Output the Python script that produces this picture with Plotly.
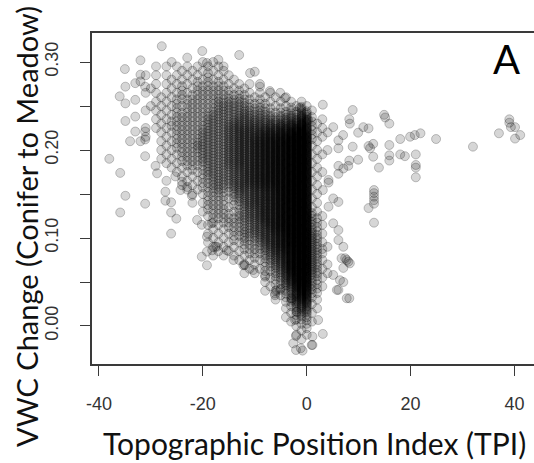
import plotly.graph_objects as go

# Isolated observations around the edge of the cloud (TPI, VWC change)
tpi_sparse = [
    -27.9, -20.1, -13.0, -32.0, -35.0, -34.9, -36.0, -34.9, -33.0, -33.0, -34.9, -33.0,
    -31.1, -34.0, -32.0, -31.1, -33.0, -32.0, -32.0, -31.1, -17.0, -19.2, -16.0, -10.0,
    -10.9, -9.0, -7.1, -5.1, -4.2, -1.3, 0.3,
    -38.0, -35.9, -34.9, -35.9, -31.1, -31.1, -29.1, -28.8, -27.2, -27.2, -26.1, -26.1,
    -25.1, -26.1, -22.1, -21.1, -20.2, -19.2, -18.2, -17.3, -24.3, -23.0, -24.0, -25.3,
    -20.2, -19.2, -19.2, -17.6, -15.4, -14.1, -12.2, -10.3, -8.0, -6.1, -5.1, -2.9,
    -18.3, -11.9, -6.1, -5.8,
    3.1, 8.85, 8.2, 8.3, 14.9, 15.9, 15.1, 10.9, 11.9, 9.9, 7.0, 6.1, 5.1, 18.0, 19.9,
    20.8, 21.9, 24.9, 32.0, 37.0, 39.0, 39.0, 40.1, 39.3, 41.1, 40.1, 8.85, 11.9, 12.8,
    12.2, 15.9, 6.1, 12.8, 15.9, 15.9, 18.0, 18.9, 21.0, 21.0, 21.0, 21.0, 13.9, 9.9,
    8.2, 8.0, 7.05, 6.1, 6.1, 12.95, 12.95, 12.95, 12.95, 12.95, 11.9, 12.95, 4.2, 4.2,
    3.1, 5.1, 6.1, 4.2, 5.1, 6.1, 6.1, 7.05, 7.7, 8.3, 6.7, 8.2, 7.05, 6.1, 8.0, 7.4,
    7.05, 5.1, 3.1, 1.1, 1.1, -0.8, -2.06, -1.15, -2.6, 0.96, 2.2, -2.06, -2.9, -1.9,
    -2.25, 5.8, 7.7, 6.4,
]
vwc_sparse = [
    0.318, 0.3125, 0.308, 0.302, 0.292, 0.272, 0.261, 0.253, 0.257, 0.238, 0.233, 0.221,
    0.221, 0.210, 0.210, 0.212, 0.276, 0.2856, 0.278, 0.272, 0.3026, 0.2989, 0.295, 0.289,
    0.2875, 0.272, 0.267, 0.265, 0.259, 0.248, 0.234,
    0.190, 0.174, 0.148, 0.129, 0.139, 0.193, 0.182, 0.1735, 0.1526, 0.1424, 0.1406, 0.129,
    0.122, 0.105, 0.148, 0.1205, 0.0788, 0.069, 0.086, 0.090, 0.1545, 0.158, 0.164, 0.170,
    0.115, 0.1015, 0.0845, 0.090, 0.086, 0.075, 0.069, 0.0636, 0.056, 0.035, 0.041, 0.0315,
    0.1167, 0.069, 0.037, 0.041,
    0.2515, 0.2455, 0.235, 0.230, 0.240, 0.230, 0.237, 0.226, 0.2246, 0.2197, 0.217, 0.211,
    0.226, 0.2125, 0.2151, 0.217, 0.219, 0.2125, 0.2038, 0.219, 0.2349, 0.231, 0.226, 0.226,
    0.217, 0.213, 0.2038, 0.2045, 0.207, 0.202, 0.2057, 0.202, 0.1924, 0.194, 0.188, 0.195,
    0.193, 0.195, 0.183, 0.180, 0.169, 0.180, 0.189, 0.188, 0.182, 0.179, 0.173, 0.182,
    0.1545, 0.151, 0.147, 0.143, 0.139, 0.134, 0.1174, 0.166, 0.163, 0.1545, 0.145, 0.141,
    0.1356, 0.1167, 0.109, 0.0977, 0.090, 0.075, 0.0712, 0.077, 0.0315, 0.050, 0.041, 0.073,
    0.077, 0.066, 0.058, -0.009, -0.012, -0.0216, -0.028, -0.0273, -0.0253, -0.0197, -0.0216,
    0.0068, -0.0114, 0.0295, 0.016, 0.0068, 0.041, 0.0315, 0.052,
]

# Crowded part of the cloud, tallied per 1-unit TPI column and 0.01 VWC row
# (odd columns use bins offset by half a row). Counts are base-36 digits (a = 10 ...).
grid_tpi = list(range(-31, 7))
grid_vwc = [round(0.30 - 0.01 * i, 2) for i in range(33)]
grid_counts = [
    "00000 10010 01010 00000 00000 00000 00000 000",  # 0.30
    "00101 01111 11111 10000 00000 00000 00000 000",  # 0.29
    "10101 11111 11211 11100 00000 00000 00000 000",  # 0.28
    "01101 11211 22222 21111 10100 00000 00000 000",  # 0.27
    "10111 11212 22222 22222 11111 10100 00000 000",  # 0.26
    "01111 12122 22223 33333 22221 11111 11000 000",  # 0.25
    "10111 12222 22233 33334 33332 22333 55100 000",  # 0.24
    "00111 22222 22333 33444 44444 44556 88211 000",  # 0.23
    "10111 12222 23333 34455 55566 6778a bb211 100",  # 0.22
    "10011 12222 23333 34455 56677 889ab dd211 000",  # 0.21
    "00011 12222 33333 34455 56677 889ab dd110 100",  # 0.20
    "00011 11222 23333 34455 56677 889ab dd111 000",  # 0.19
    "00001 11122 22333 34455 56677 889ab dd110 000",  # 0.18
    "00000 01111 12333 33445 56677 889ab dd111 000",  # 0.17
    "00001 00111 12233 33445 56677 889ab dd110 000",  # 0.16
    "00000 00011 11223 22344 45566 789ab dd110 000",  # 0.15
    "00000 00001 01222 21234 45566 789ab dd110 000",  # 0.14
    "00000 00000 01222 21123 44566 789ab dd110 000",  # 0.13
    "00000 00000 00122 22233 44566 789ab dd321 000",  # 0.12
    "00000 00000 00111 12223 34456 789ab dd321 000",  # 0.11
    "00000 00000 00111 11223 33455 678ab dd431 000",  # 0.10
    "00000 00000 00111 11112 22345 678ab dd431 100",  # 0.09
    "00000 00000 00011 11111 22234 5679a dd432 000",  # 0.08
    "00000 00000 00000 00011 11123 4579a dd431 100",  # 0.07
    "00000 00000 00000 00001 11122 3469a dd431 100",  # 0.06
    "00000 00000 00000 00000 00011 2357a dd321 000",  # 0.05
    "00000 00000 00000 00000 00011 12358 bb321 000",  # 0.04
    "00000 00000 00000 00000 00000 11236 99210 000",  # 0.03
    "00000 00000 00000 00000 00000 00124 66110 000",  # 0.02
    "00000 00000 00000 00000 00000 00112 43100 000",  # 0.01
    "00000 00000 00000 00000 00000 00011 22100 000",  # 0.00
    "00000 00000 00000 00000 00000 00001 11000 000",  # -0.01
    "00000 00000 00000 00000 00000 00000 10000 000",  # -0.02
]
row_step = 0.01
row_offset = 0.005  # half-row shift of odd columns

x_ticks = [-40, -20, 0, 20, 40]
x_tick_text = ["-40", "-20", "0", "20", "40"]
y_ticks = [0.0, 0.1, 0.2, 0.3]
y_tick_text = ["0.00", "0.10", "0.20", "0.30"]
y_minor = [0.05, 0.15, 0.25]

# expand the tallies into one marker per observation, spread evenly over the bin height
tpi_all = list(tpi_sparse)
vwc_all = list(vwc_sparse)
for v, row in zip(grid_vwc, grid_counts):
    for t, ch in zip(grid_tpi, row.replace(" ", "")):
        n = int(ch, 36)
        base = v + row_offset * (t % 2) - row_step / 2
        for k in range(n):
            tpi_all.append(t)
            vwc_all.append(base + row_step * (k + 0.5) / n)

fig = go.Figure()
fig.add_trace(go.Scatter(
    x=tpi_all, y=vwc_all, mode="markers",
    marker=dict(size=9, color="rgba(0,0,0,0.16)",
                line=dict(color="rgba(0,0,0,0.22)", width=1)),
    hoverinfo="skip",
))

axis_col = "#3a3a3a"
tick_font = dict(family="Liberation Sans, Arial, sans-serif", size=18, color="#333333")

fig.update_xaxes(
    range=[-41.33, 43.75], showgrid=False, zeroline=False,
    showline=True, linecolor=axis_col, linewidth=1.5, mirror=True,
    ticks="outside", ticklen=10, tickwidth=1.3, tickcolor=axis_col,
    tickvals=x_ticks, ticktext=x_tick_text, tickfont=tick_font, ticklabelstandoff=13,
)
fig.update_yaxes(
    range=[-0.0432, 0.333], showgrid=False, zeroline=False,
    showline=True, linecolor=axis_col, linewidth=1.5,
    ticks="outside", ticklen=10, tickwidth=1.3, tickcolor=axis_col,
    tickvals=y_ticks, ticktext=y_tick_text, tickangle=-90,
    tickfont=tick_font, ticklabelstandoff=15,
    minor=dict(tickvals=y_minor, ticks="outside", ticklen=10,
               tickwidth=1.3, tickcolor=axis_col),
)

title_font = "Lato, Open Sans, sans-serif"
fig.add_annotation(
    text="Topographic Position Index (TPI)", xref="paper", yref="paper",
    x=0.503, y=-0.24, xanchor="center", yanchor="middle", showarrow=False,
    font=dict(family=title_font, size=30, color="#111111"),
)
fig.add_annotation(
    text="VWC Change (Conifer to Meadow)", xref="paper", yref="paper",
    x=-0.148, y=0.416, xanchor="center", yanchor="middle", showarrow=False,
    textangle=-90, font=dict(family=title_font, size=29, color="#111111"),
)
fig.add_annotation(
    text="A", xref="paper", yref="paper", x=0.938, y=0.922,
    xanchor="center", yanchor="middle", showarrow=False,
    font=dict(family=title_font, size=40, color="#000000"),
)

fig.update_layout(
    width=534, height=463, margin=dict(l=92, r=0, t=33, b=99),
    plot_bgcolor="white", paper_bgcolor="white", showlegend=False,
)

fig.write_html("out.html")
